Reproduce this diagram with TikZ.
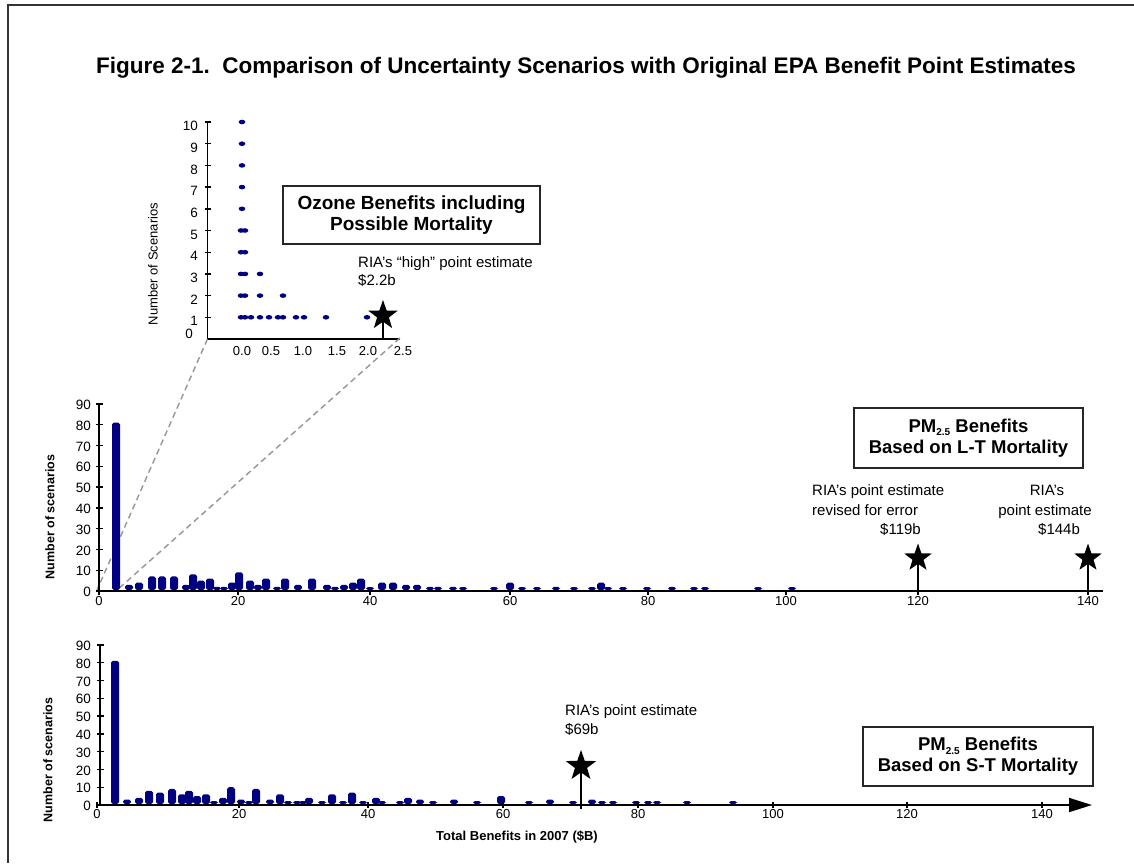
\documentclass[tikz,border=0pt]{standalone}
\usepackage{fontspec}
\setmainfont{Liberation Sans}
\usetikzlibrary{shapes.geometric,arrows.meta}
\definecolor{navy}{RGB}{0,0,128}
\definecolor{guidegray}{RGB}{150,150,150}
\newcommand{\fsz}[2]{\fontsize{#1}{#2}\selectfont}
\newcommand{\pmsub}{PM\raisebox{-0.35ex}{\fsz{10}{10}2.5}}

\begin{document}
\begin{tikzpicture}[x=1pt,y=-1pt,
  frame/.style={draw=black!80, line width=2pt},
  ax/.style={black, line width=1.8pt},
  tk/.style={black, line width=1.4pt},
  bar/.style={fill=navy, rounded corners=1.8pt},
  dot/.style={fill=navy},
  num/.style={font=\fsz{13.5}{16}, inner sep=0},
  xnum/.style={font=\fsz{13}{15}, inner sep=0},
  axtitle/.style={font=\bfseries\fsz{12.5}{15}, inner sep=0},
  ann/.style={font=\fsz{15}{18}, inner sep=0},
  panel/.style={draw=black!85, line width=1.8pt, font=\bfseries\fsz{18.5}{21},
                align=center, inner sep=0},
  marker/.style={star, star points=5, star point ratio=2.5, fill=black, inner sep=0},
  stem/.style={black, line width=1.6pt},
  guide/.style={guidegray, line width=1.4pt, dash pattern=on 6pt off 4pt}
]
\useasboundingbox (0,0) rectangle (1134,863);
\fill[white] (0,0) rectangle (1134,863);

% outer frame (top and left edges)
\draw[frame] (8,863) -- (8,5) -- (1134,5);

% title
\node[font=\bfseries\fsz{22.5}{26}, inner sep=0, anchor=base] (title) at (586,73)
  {Figure 2-1.\ \ Comparison of Uncertainty Scenarios with Original EPA Benefit Point Estimates};

% ---------------- inset: ozone scatter ----------------
\coordinate (iO) at (207.5,339);
\coordinate (iT) at (207.5,122);
\coordinate (iE) at (400,339);
\coordinate (iEnd) at (400,338);
\draw[ax] (iT) -- (iO) -- (iE);
\foreach \i in {1,...,10}
  \draw[tk] (204.5,{339-\i*21.7}) -- (210.5,{339-\i*21.7});
\foreach \i in {1,...,10}
  \node[num, anchor=east] (iyl\i) at (198,{343-\i*21.7}) {\i};
\node[num, anchor=east] (iyl0) at (193,334) {0};
\foreach \xv/\t [count=\k] in {242/0.0,271/0.5,303/1.0,337/1.5,368/2.0,403/2.5}
  \node[xnum] (ixl\k) at (\xv,351) {\t};
\node[font=\fsz{13}{15}, inner sep=0, rotate=90] (iylab) at (153,264) {Number of Scenarios};

% scatter points (x position / scenario count)
\foreach \xv/\l in {242/10,242/9,242/8,242/7,242/6,
                    241/5,245/5,241/4,245/4,
                    241/3,245/3,260/3,
                    241/2,245/2,260/2,283/2,
                    241/1,245/1,251/1,260/1,269/1,278/1,283/1,296/1,304/1,326/1,367/1}
  \fill[dot] (\xv,{339-\l*21.7}) ellipse [x radius=3.3, y radius=2.3];

\node[panel, font=\bfseries\fsz{19}{21.5}, minimum width=257pt, minimum height=58pt] (ozbox)
  at (411.5,215) {Ozone Benefits including\\Possible Mortality};
\node[ann, anchor=base west] (oza) at (358,267) {RIA’s “high” point estimate};
\node[ann, anchor=base west] (ozb) at (358,285) {\$2.2b};
\coordinate (ozfoot) at (383,339);
\node[marker, minimum size=31pt] (ozstar) at (383,315.5) {};
\draw[stem] (ozstar.center) -- (ozfoot);

% ---------------- middle chart: L-T mortality ----------------
\coordinate (mO) at (99,591);
\coordinate (mT) at (99,404);
\coordinate (mE) at (1103,591);
\coordinate (mA) at (97,590);
\coordinate (mB) at (116,591);

% zoom guides from the inset axes down to the first bin
\draw[guide] (iO) -- (mA);
\draw[guide] (iEnd) -- (mB);

\foreach \xv/\v in {116/81,129/3,139/4,152/7,162/7,174/7,186/3,193/8,201/5,210/6,
                    217/2,224/2,232/4,239/9,250/5,258/3,266/6,277/2,285/6,298/3,
                    312/6,327/3,335/2,344/3,353/4,361/6,370/1,382/4,393/4,406/3,
                    417/3,430/2,438/2,453/2,463/1,494/1,510/4,522/1,537/1,556/2,
                    574/1,592/1,601/4,608/1,623/1,647/1,672/2,694/1,705/1,758/1,792/1}
  \fill[bar] ({\xv-4},590) rectangle ({\xv+4},{591-max(\v*2.08,4)});

\draw[ax] (mT) -- (mO) -- (mE);
\foreach \i in {0,...,9}
  \draw[tk] (96,{591-\i*20.8}) -- (103,{591-\i*20.8});
\foreach \i/\t in {0/0,1/10,2/20,3/30,4/40,5/50,6/60,7/70,8/80,9/90}
  \node[num, anchor=east] (myl\i) at (91,{592-\i*20.8}) {\t};
\foreach \xv/\t [count=\k] in {99/0,238/20,370/40,510/60,648/80,786/100,918/120,1088/140}
  {\draw[tk] (\xv,591) -- (\xv,595);
   \node[xnum] (mxl\k) at (\xv,601) {\t};}
\node[axtitle, rotate=90] (mylab) at (50,517) {Number of scenarios};

\node[panel, minimum width=229pt, minimum height=60pt] (ltbox) at (968.5,438)
  {\pmsub{} Benefits\\Based on L-T Mortality};

\node[ann, anchor=base west] (lta) at (812,495.5) {RIA’s point estimate};
\node[ann, anchor=base west] (ltb) at (812,515.5) {revised for error};
\node[ann, anchor=base west] (ltc) at (880,534) {\$119b};
\node[ann, anchor=base] (ltd) at (1047,495.5) {RIA’s};
\node[ann, anchor=base] (lte) at (1045,515.5) {point estimate};
\node[ann, anchor=base] (ltf) at (1059,534) {\$144b};

\coordinate (ltfootA) at (918,595);
\coordinate (ltfootB) at (1088,595);
\node[marker, minimum size=29pt] (ltstarA) at (918,558) {};
\node[marker, minimum size=29pt] (ltstarB) at (1088,558) {};
\draw[stem] (ltstarA.center) -- (ltfootA);
\draw[stem] (ltstarB.center) -- (ltfootB);

% ---------------- bottom chart: S-T mortality ----------------
\coordinate (bO) at (100,805);
\coordinate (bT) at (100,644);
\coordinate (bE) at (1092,805);

\foreach \xv/\v in {115/81,127/3,139/4,149/8,160/7,172/9,182/6,189/8,197/5,206/6,
                    214/2,223/4,231/10,241/3,249/2,256/9,270/3,280/6,288/2,297/2,
                    303/2,309/4,322/1,332/6,343/2,352/7,363/1,376/4,382/2,400/2,
                    408/4,420/3,433/1,454/3,477/1,501/5,529/1,550/3,573/1,592/3,
                    602/1,613/1,636/2,648/1,657/1,687/1,733/1}
  \fill[bar] ({\xv-4},804) rectangle ({\xv+4},{805-max(\v*1.78,4)});

\draw[ax, -{Triangle[length=23pt, width=14pt]}] (bO) -- (bE);
\draw[ax] (bT) -- (bO);
\foreach \i in {0,...,9}
  \draw[tk] (97,{805-\i*17.8}) -- (104,{805-\i*17.8});
\foreach \i/\t in {0/0,1/10,2/20,3/30,4/40,5/50,6/60,7/70,8/80,9/90}
  \node[num, anchor=east] (byl\i) at (91,{806-\i*17.8}) {\t};
\foreach \xv/\t [count=\k] in {97/0,239/20,368/40,503/60,638/80,773/100,907/120,1042/140}
  {\draw[tk] (\xv,802) -- (\xv,808);
   \node[xnum] (bxl\k) at (\xv,814) {\t};}
\node[axtitle, rotate=90] (bylab) at (48,760) {Number of scenarios};
\node[font=\bfseries\fsz{13}{15}, inner sep=0] (bxlab) at (517,837) {Total Benefits in 2007 (\$B)};

\node[panel, minimum width=230pt, minimum height=59pt] (stbox) at (978,756.5)
  {\pmsub{} Benefits\\Based on S-T Mortality};

\node[ann, anchor=base west] (sta) at (565,715) {RIA’s point estimate};
\node[ann, anchor=base west] (stb) at (565,734) {\$69b};
\coordinate (stfoot) at (581,809);
\node[marker, minimum size=32pt] (ststar) at (581,766) {};
\draw[stem] (ststar.center) -- (stfoot);
\end{tikzpicture}
\end{document}
